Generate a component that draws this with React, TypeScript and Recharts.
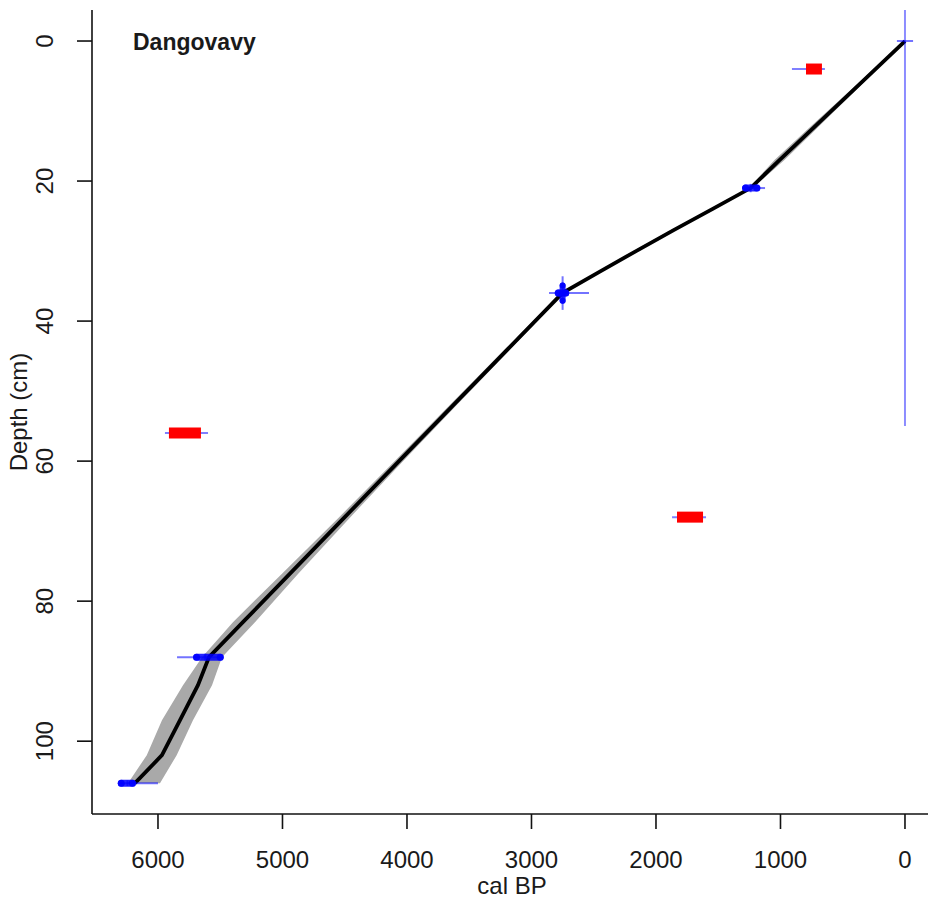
import { Area, ComposedChart, ErrorBar, Line, ReferenceLine, Scatter, XAxis, YAxis } from 'recharts';

const FONT = '"Liberation Sans", Arial, Helvetica, sans-serif';
const INK = '#1a1a1a';

// age-depth model: mean ages and the grey envelope (young / old edge), cal BP
const modelDepths = [0, 4, 8, 12, 17, 21, 24, 27, 30, 33, 36, 44, 52, 60, 68, 76, 83, 88, 92, 97, 102, 106];
const modelAges = [0, 237, 474, 712, 1008, 1240, 1548, 1858, 2160, 2458, 2752, 3190, 3628, 4064, 4500, 4936, 5318, 5590, 5679, 5823, 5968, 6185];
const bandYoung = [0, 222, 450, 680, 968, 1225, 1530, 1838, 2140, 2440, 2742, 3168, 3600, 4030, 4455, 4870, 5221, 5486, 5566, 5719, 5850, 5984];
const bandOld = [0, 252, 498, 745, 1048, 1255, 1566, 1878, 2180, 2476, 2762, 3212, 3656, 4098, 4545, 5000, 5398, 5646, 5799, 5968, 6090, 6241];

// accepted dates: depth, calibrated age, 95% range, depth error
const dateDepths = [0, 21, 36, 88, 106];
const dateAges = [0, 1240, 2750, 5620, 6245];
const dateYoung = [-65, 1124, 2538, 5478, 6000];
const dateOld = [65, 1309, 2859, 5847, 6305];
const dateDepthErr = [0, 0.6, 2.4, 0.5, 0.4];
// densest part of each calibrated date (surface date has none)
const coreYoung = [0, 1190, 2725, 5500, 6205];
const coreOld = [0, 1280, 2785, 5690, 6295];
const coreDepthErr = [0, 0, 1.1, 0, 0];

// rejected dates
const outlierDepths = [4, 56, 68];
const outlierAges = [731, 5783, 1726];
const outlierYoung = [643, 5598, 1598];
const outlierOld = [908, 5944, 1871];
const outlierCoreYoung = [667, 5655, 1622];
const outlierCoreOld = [795, 5912, 1831];

// surface marker
const surfaceAge = 0;
const surfaceSpan = [-4.43, 55];

const xTicks = [0, 1000, 2000, 3000, 4000, 5000, 6000];
const yTicks = [0, 20, 40, 60, 80, 100];

const model = modelDepths.map((depth, i) => ({
  depth,
  age: modelAges[i],
  band: [bandYoung[i], bandOld[i]],
}));

const dates = dateDepths.map((depth, i) => ({
  depth,
  age: dateAges[i],
  wide: [dateAges[i] - dateYoung[i], dateOld[i] - dateAges[i]],
  depthErr: dateDepthErr[i],
}));

const cores = dateDepths
  .map((depth, i) => ({
    depth,
    age: dateAges[i],
    core: [dateAges[i] - coreYoung[i], coreOld[i] - dateAges[i]],
    depthErr: coreDepthErr[i],
  }))
  .slice(1);

const outliers = outlierDepths.map((depth, i) => ({
  depth,
  age: outlierAges[i],
  wide: [outlierAges[i] - outlierYoung[i], outlierOld[i] - outlierAges[i]],
  core: [outlierAges[i] - outlierCoreYoung[i], outlierCoreOld[i] - outlierAges[i]],
}));

const XTick = ({ x, y, payload }: any) => (
  <text x={x} y={y + 37} textAnchor="middle" fontSize={24} fontFamily={FONT} fill={INK}>
    {payload.value}
  </text>
);

const YTick = ({ x, y, payload }: any) => (
  <text
    x={x - 22}
    y={y}
    transform={`rotate(-90, ${x - 22}, ${y})`}
    textAnchor="middle"
    fontSize={24}
    fontFamily={FONT}
    fill={INK}
  >
    {payload.value}
  </text>
);

const noDot = () => <g />;
const axisStroke = { stroke: '#111', strokeWidth: 1.6 };

export default function App() {
  return (
    <div style={{ position: 'absolute', left: 0, top: 0, width: 928, height: 900, overflow: 'hidden', background: '#fff' }}>
      <ComposedChart
        width={932}
        height={900}
        layout="vertical"
        data={model}
        margin={{ top: 10, right: 0, bottom: 0, left: 0 }}
      >
        <XAxis
          type="number"
          dataKey="age"
          domain={[-217, 6530]}
          reversed
          allowDataOverflow
          ticks={xTicks}
          interval={0}
          height={86}
          tickSize={15}
          axisLine={axisStroke}
          tickLine={axisStroke}
          tick={<XTick />}
          label={{
            content: ({ viewBox }: any) => (
              <text
                x={viewBox.x + viewBox.width / 2}
                y={viewBox.y + 80}
                textAnchor="middle"
                fontSize={24}
                fontFamily={FONT}
                fill={INK}
              >
                cal BP
              </text>
            ),
          }}
        />
        {/* vertical layout already runs depth top-down */}
        <YAxis
          type="number"
          dataKey="depth"
          domain={[-4.43, 110.4]}
          allowDataOverflow
          ticks={yTicks}
          interval={0}
          width={92}
          tickSize={15}
          axisLine={axisStroke}
          tickLine={axisStroke}
          tick={<YTick />}
          label={{
            content: ({ viewBox }: any) => {
              const cx = viewBox.x + 27;
              const cy = viewBox.y + viewBox.height / 2;
              return (
                <text
                  x={cx}
                  y={cy}
                  transform={`rotate(-90, ${cx}, ${cy})`}
                  textAnchor="middle"
                  fontSize={24}
                  fontFamily={FONT}
                  fill={INK}
                >
                  Depth (cm)
                </text>
              );
            },
          }}
        />
        <Area dataKey="band" type="linear" fill="#a9a9a9" fillOpacity={1} stroke="none" isAnimationActive={false} />
        <Line dataKey="age" type="linear" stroke="#000" strokeWidth={3.8} dot={false} isAnimationActive={false} />
        <ReferenceLine
          segment={[
            { x: surfaceAge, y: surfaceSpan[0] },
            { x: surfaceAge, y: surfaceSpan[1] },
          ]}
          stroke="#0000ff"
          strokeOpacity={0.45}
          strokeWidth={2}
          ifOverflow="visible"
        />
        <Scatter data={dates} shape={noDot} isAnimationActive={false}>
          <ErrorBar dataKey="wide" direction="x" width={0} stroke="#0000ff" strokeOpacity={0.55} strokeWidth={2} />
          <ErrorBar dataKey="depthErr" direction="y" width={0} stroke="#0000ff" strokeOpacity={0.55} strokeWidth={2} />
        </Scatter>
        <Scatter data={outliers} shape={noDot} isAnimationActive={false}>
          <ErrorBar dataKey="wide" direction="x" width={0} stroke="#0000ff" strokeOpacity={0.5} strokeWidth={2} />
        </Scatter>
        <Scatter data={cores} shape={noDot} isAnimationActive={false}>
          <ErrorBar dataKey="core" direction="x" width={0} stroke="#0000ff" strokeOpacity={0.85} strokeWidth={7} strokeLinecap="round" />
          <ErrorBar dataKey="depthErr" direction="y" width={0} stroke="#0000ff" strokeOpacity={0.85} strokeWidth={6} strokeLinecap="round" />
        </Scatter>
        <Scatter data={outliers} shape={noDot} isAnimationActive={false}>
          <ErrorBar dataKey="core" direction="x" width={0} stroke="#ff0000" strokeWidth={11} strokeLinecap="butt" />
        </Scatter>
      </ComposedChart>
      <div
        style={{
          position: 'absolute',
          left: 133,
          top: 31,
          fontFamily: FONT,
          fontSize: 23,
          fontWeight: 'bold',
          lineHeight: 1,
          color: INK,
          whiteSpace: 'nowrap',
        }}
      >
        Dangovavy
      </div>
    </div>
  );
}
